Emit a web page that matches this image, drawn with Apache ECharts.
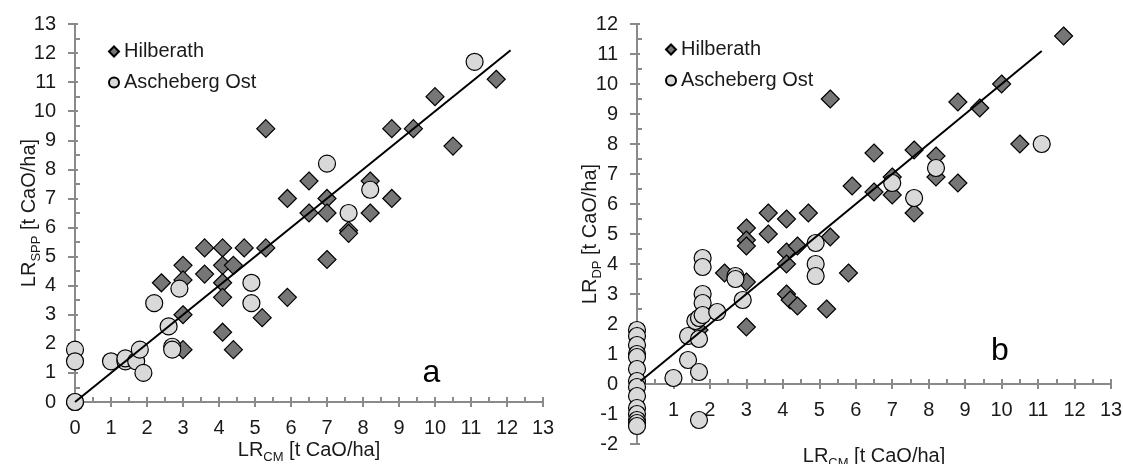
<!DOCTYPE html>
<html>
<head>
<meta charset="utf-8">
<script src="https://cdn.jsdelivr.net/npm/echarts@6/dist/echarts.min.js"></script>
<style>html,body{margin:0;padding:0;background:#fff}#c{width:1123px;height:464px}</style>
</head>
<body>
<div id="c"></div>
<script>
// ---- Data (x = LR_CM, y = LR_SPP / LR_DP) ----
const hilberathA = [[2.4,4.1],[3.0,4.7],[3.0,4.2],[3.0,3.0],[3.0,1.8],[3.6,5.3],[3.6,4.4],[4.1,5.3],[4.1,4.7],[4.1,4.1],[4.1,3.6],[4.1,2.4],[4.4,4.7],[4.4,1.8],[4.7,5.3],[5.2,2.9],[5.3,5.3],[5.3,9.4],[5.9,7.0],[5.9,3.6],[6.5,7.6],[6.5,6.5],[7.0,7.0],[7.0,6.5],[7.0,4.9],[7.6,5.9],[7.6,5.8],[8.2,7.6],[8.2,6.5],[8.8,9.4],[8.8,7.0],[9.4,9.4],[10.0,10.5],[10.5,8.8],[11.7,11.1]];
const aschebergA = [[0,1.8],[0,1.4],[0,0],[0,0],[1.0,1.4],[1.4,1.4],[1.4,1.5],[1.7,1.4],[1.8,1.8],[1.9,1.0],[2.2,3.4],[2.6,2.6],[2.7,1.9],[2.7,1.8],[2.9,3.9],[4.9,4.1],[4.9,3.4],[7.0,8.2],[7.6,6.5],[8.2,7.3],[11.1,11.7]];
const hilberathB = [[1.7,1.8],[2.4,3.7],[3.0,5.2],[3.0,4.8],[3.0,4.6],[3.0,3.4],[3.0,1.9],[3.6,5.7],[3.6,5.0],[4.1,5.5],[4.1,4.4],[4.1,4.0],[4.1,3.0],[4.2,2.8],[4.4,4.6],[4.4,2.6],[4.7,5.7],[5.2,2.5],[5.3,9.5],[5.3,4.9],[5.8,3.7],[5.9,6.6],[6.5,7.7],[6.5,6.4],[7.0,6.9],[7.0,6.3],[7.6,7.8],[7.6,5.7],[8.2,7.6],[8.2,6.9],[8.8,9.4],[8.8,6.7],[9.4,9.2],[10.0,10.0],[10.5,8.0],[11.7,11.6]];
const aschebergB = [[0,1.8],[0,1.6],[0,1.3],[0,1.0],[0,0.9],[0,0.5],[0,0.1],[0,-0.1],[0,-0.4],[0,-0.8],[0,-1.0],[0,-1.2],[0,-1.3],[0,-1.4],[1.0,0.2],[1.4,1.6],[1.4,0.8],[1.7,0.4],[1.7,-1.2],[1.6,2.1],[1.7,2.2],[1.7,1.5],[1.8,4.2],[1.8,3.9],[1.8,3.0],[1.8,2.7],[1.8,2.3],[2.2,2.4],[2.7,3.6],[2.7,3.5],[2.9,2.8],[4.9,4.7],[4.9,4.0],[4.9,3.6],[7.0,6.7],[7.6,6.2],[8.2,7.2],[11.1,8.0]];
const lineA = [[0,0],[12.1,12.1]];
const lineB = [[0.1,0.1],[11.1,11.1]];
const panelLabels = ['a','b'];
const panelLabelPos = [[9.9,1.0],[9.95,1.1]];
const seriesNames = ['Hilberath','Ascheberg Ost'];
const xRange = [0,13];
const yRangeA = [0,13];
const yRangeB = [-2,12];

const FONT = "'Liberation Sans', Arial, sans-serif";
const GRAY = '#8a8a8a';
const TXT = '#1a1a1a';
const FS = 20;

function rich() {
  return {
    m: {fontSize: FS, fontFamily: FONT, color: TXT, lineHeight: 24},
    s: {fontSize: 13, fontFamily: FONT, color: TXT, lineHeight: 13, verticalAlign: 'bottom', padding: [0,0,-2,0]}
  };
}
function baseAxis(grid, range, isX) {
  return {
    type: 'value', gridIndex: grid, min: range[0], max: range[1], interval: 1,
    position: isX ? 'bottom' : 'left',
    splitLine: {show: false},
    minorTick: {show: false},
    axisLabel: {show: false}
  };
}
function mainAxis(grid, range, isX, name, nameGap) {
  return Object.assign(baseAxis(grid, range, isX), {
    axisLine: {show: true, onZero: true, lineStyle: {color: GRAY, width: 2}},
    axisTick: {show: true, inside: false, length: isX ? 5 : 7, lineStyle: {color: GRAY, width: 2}},
    axisLabel: {show: true, margin: isX ? 16 : 19, fontSize: FS, fontFamily: FONT, color: TXT},
    name: name, nameLocation: 'middle', nameGap: nameGap, nameMoveOverlap: false,
    nameTextStyle: {rich: rich()}
  });
}
// label-only axis (labels lifted up to the zero line)
function labelAxis(grid, range, name, nameGap, labelMargin) {
  return Object.assign(baseAxis(grid, range, true), {
    axisLine: {show: false, onZero: false},
    axisTick: {show: false},
    axisLabel: {show: true, margin: labelMargin, fontSize: FS, fontFamily: FONT, color: TXT},
    name: name, nameLocation: 'middle', nameGap: nameGap, nameMoveOverlap: false,
    nameTextStyle: {rich: rich()}
  });
}
function lineAxis(grid, range) {
  return Object.assign(baseAxis(grid, range, true), {
    axisLine: {show: true, onZero: true, lineStyle: {color: GRAY, width: 2}},
    axisTick: {show: true, inside: false, length: 5, lineStyle: {color: GRAY, width: 2}}
  });
}
function overlayAxis(grid, range, isX) {
  return Object.assign(baseAxis(grid, range, isX), {
    axisLine: {show: false, onZero: true},
    axisTick: {show: true, inside: true, length: isX ? 5 : 3, lineStyle: {color: GRAY, width: 2}},
    minorTick: {show: true, splitNumber: 2, length: 5, lineStyle: {color: GRAY, width: 2}}
  });
}
const diamondStyle = {color: '#767676', borderColor: '#000', borderWidth: 1.2, opacity: 1};
const circleStyle = {color: '#d9d9d9', borderColor: '#000', borderWidth: 1.2, opacity: 1};

function panelSeries(idx, hil, asc, line) {
  return [
    {name: seriesNames[0], type: 'scatter', xAxisIndex: idx*2, yAxisIndex: idx*2, data: hil, symbol: 'diamond', symbolSize: 18, itemStyle: diamondStyle, z: 3},
    {name: seriesNames[1], type: 'scatter', xAxisIndex: idx*2, yAxisIndex: idx*2, data: asc, symbol: 'circle', symbolSize: 17, itemStyle: circleStyle, z: 3},
    {type: 'line', xAxisIndex: idx*2, yAxisIndex: idx*2, data: line, symbol: 'none', lineStyle: {color: '#000', width: 2}, z: 4, silent: true},
    {type: 'scatter', xAxisIndex: idx*2, yAxisIndex: idx*2, data: [panelLabelPos[idx]], symbolSize: 0, silent: true, z: 5,
     itemStyle: {opacity: 1},
     label: {show: true, position: 'inside', formatter: panelLabels[idx], fontSize: 32, fontFamily: FONT, color: '#000', opacity: 1}}
  ];
}

const chart = echarts.init(document.getElementById('c'), null, {renderer: 'canvas'});
const legendBase = {
  orient: 'vertical', itemWidth: 10, itemHeight: 10, itemGap: 8,
  data: seriesNames, selectedMode: false,
  textStyle: {fontSize: FS, fontFamily: FONT, color: TXT, lineHeight: 23}
};
chart.setOption({
  animation: false,
  backgroundColor: '#fff',
  grid: [
    {left: 75, top: 24, width: 468, height: 378, containLabel: false, outerBoundsMode: 'none'},
    {left: 637, top: 24, width: 474, height: 420, containLabel: false, outerBoundsMode: 'none'}
  ],
  legend: [
    Object.assign({left: 103, top: 35}, legendBase),
    Object.assign({left: 660, top: 33}, legendBase)
  ],
  xAxis: [
    mainAxis(0, xRange, true, '{m|LR}{s|CM}{m| [t CaO/ha]}', 36),
    overlayAxis(0, xRange, true),
    labelAxis(1, xRange, '{m|LR}{s|CM}{m| [t CaO/ha]}', 0, -44),
    lineAxis(1, xRange),
    overlayAxis(1, xRange, true)
  ],
  yAxis: [
    mainAxis(0, yRangeA, false, '{m|LR}{s|SPP}{m| [t CaO/ha]}', 34),
    overlayAxis(0, yRangeA, false),
    mainAxis(1, yRangeB, false, '{m|LR}{s|DP}{m| [t CaO/ha]}', 35),
    overlayAxis(1, yRangeB, false)
  ],
  series: [].concat(panelSeries(0, hilberathA, aschebergA, lineA), panelSeries(1, hilberathB, aschebergB, lineB))
});
</script>
</body>
</html>
